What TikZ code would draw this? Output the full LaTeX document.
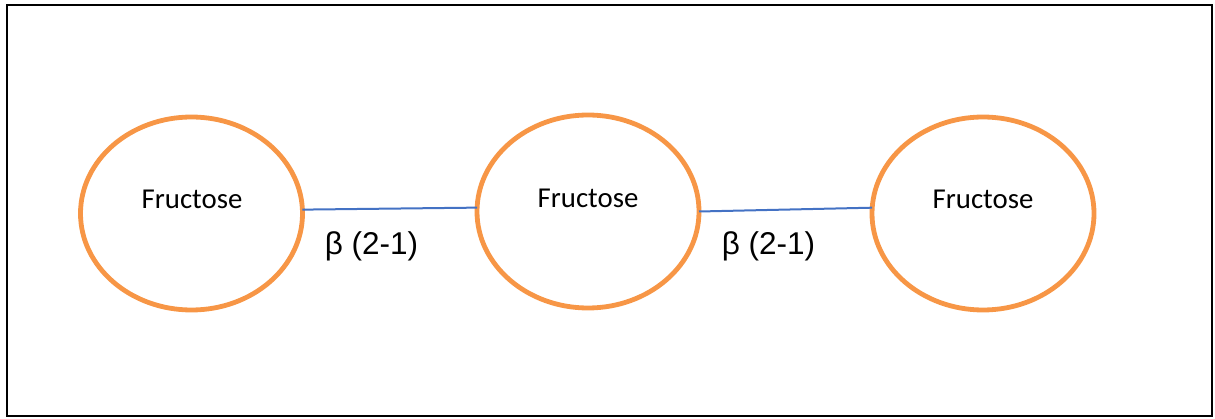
\documentclass[tikz,border=0pt]{standalone}
\usepackage{fontspec}
\usetikzlibrary{shapes.geometric}
\newfontfamily\carlito{Carlito}
\newfontfamily\libsans{Liberation Sans}
\definecolor{sugarorange}{RGB}{247,150,70}
\definecolor{linkblue}{RGB}{68,114,196}
\begin{document}
\begin{tikzpicture}[x=1pt,y=-1pt,
  sugar/.style={ellipse,draw=sugarorange,line width=4.8pt,minimum width=222pt,minimum height=193pt,inner sep=0pt,outer sep=0pt},
  sugarname/.style={inner sep=0pt,font=\carlito\fontsize{28.8}{34}\selectfont},
  bond/.style={draw=linkblue,line width=2pt},
  bondlabel/.style={inner sep=0pt,font=\libsans\fontsize{31.5}{37}\selectfont}]
\useasboundingbox (0,0) rectangle (1215,419);
\node[draw=black,line width=2.5pt,minimum width=1205pt,minimum height=411pt,inner sep=0pt] (frame) at (609.5,210.5) {};
\node[sugar] (f1) at (191.5,213.5) {};
\node[sugar] (f2) at (588,211.5) {};
\node[sugar] (f3) at (983,213.5) {};
\node[sugarname] (t1) at (192,199) {Fructose};
\node[sugarname] (t2) at (588,198) {Fructose};
\node[sugarname] (t3) at (983,199) {Fructose};
\draw[bond] (f1.2.7) -- (f2.178.5);
\draw[bond] (f2.0.3) -- (f3.177.3);
\node[bondlabel] (b1) at (371.5,246) {β (2-1)};
\node[bondlabel] (b2) at (768.5,246) {β (2-1)};
\end{tikzpicture}
\end{document}
